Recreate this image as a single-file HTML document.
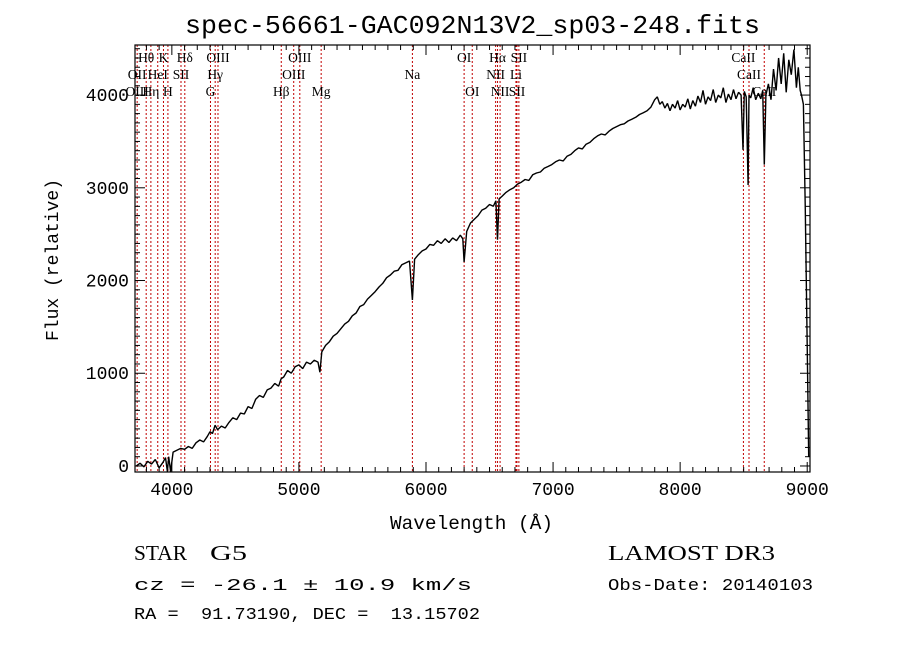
<!DOCTYPE html>
<html><head><meta charset="utf-8"><style>
body{margin:0;background:#fff;}
svg text{font-family:"Liberation Mono",monospace;white-space:pre;}
</style></head><body>
<svg id="c" width="900" height="649" viewBox="0 0 900 649" xmlns="http://www.w3.org/2000/svg">
<rect width="900" height="649" fill="#fff"/>
<text x="185" y="33" font-size="26" textLength="575" lengthAdjust="spacingAndGlyphs">spec-56661-GAC092N13V2_sp03-248.fits</text>
<g id="lines"></g>
<g id="labels"></g>
<polyline id="spec" fill="none" stroke="#000" stroke-width="1.4" stroke-linejoin="bevel"/>
<rect x="135" y="45" width="675" height="427" fill="none" stroke="#000" stroke-width="1.2"/>
<g id="ticks"></g>
<text x="390" y="529" font-size="19" textLength="163" lengthAdjust="spacingAndGlyphs">Wavelength (Å)</text>
<text transform="translate(58,260) rotate(-90)" font-size="18" text-anchor="middle">Flux (relative)</text>
<text x="134" y="560" font-size="21" style="font-family:'Liberation Serif',serif" textLength="53" lengthAdjust="spacingAndGlyphs">STAR</text>
<text x="210" y="560" font-size="21" style="font-family:'Liberation Serif',serif" textLength="37" lengthAdjust="spacingAndGlyphs">G5</text>
<text x="134" y="590" font-size="17" textLength="338" lengthAdjust="spacingAndGlyphs">cz = -26.1 ± 10.9 km/s</text>
<text x="134" y="619" font-size="17" textLength="346" lengthAdjust="spacingAndGlyphs">RA =  91.73190, DEC =  13.15702</text>
<text x="608" y="560" font-size="21" style="font-family:'Liberation Serif',serif" textLength="167" lengthAdjust="spacingAndGlyphs">LAMOST DR3</text>
<text x="608" y="590" font-size="17" textLength="205" lengthAdjust="spacingAndGlyphs">Obs-Date: 20140103</text>
</svg>
<script>
const wave=[
3720,3750,3780,3810,3840,3870,3900,3930,3950,3965,
3975,3990,4010,4040,4070,4100,4130,4160,4190,4220,
4250,4280,4300,4320,4340,4360,4390,4420,4450,4480,
4510,4540,4570,4600,4630,4660,4690,4720,4750,4780,
4810,4840,4860,4880,4910,4940,4970,5000,5030,5060,
5090,5120,5150,5165,5180,5210,5240,5270,5300,5330,
5360,5390,5420,5450,5480,5510,5540,5570,5600,5630,
5660,5690,5720,5750,5780,5810,5840,5870,5893,5910,
5940,5970,6000,6030,6060,6090,6120,6150,6180,6210,
6240,6270,6290,6300,6320,6350,6380,6410,6440,6470,
6500,6530,6550,6563,6575,6600,6630,6660,6690,6720,
6750,6780,6810,6840,6870,6900,6930,6960,6990,7020,
7050,7080,7110,7140,7170,7200,7230,7260,7290,7320,
7350,7380,7410,7440,7470,7500,7530,7560,7590,7620,
7650,7680,7710,7740,7770,7800,7820,7840,7860,7880,
7900,7920,7940,7960,7980,8000,8020,8040,8060,8080,
8100,8120,8140,8160,8180,8200,8220,8240,8260,8280,
8300,8320,8340,8360,8380,8400,8420,8440,8460,8480,
8495,8505,8520,8535,8542,8555,8575,8595,8615,8635,
8650,8662,8675,8695,8715,8735,8755,8775,8795,8815,
8835,8855,8875,8895,8915,8930,8945,8955,8970,8985,
9000,9012];
const flux=[
0,30,-10,50,20,70,-20,40,90,-60,
100,-60,150,170,190,180,210,190,250,280,
260,320,370,350,440,390,430,410,470,520,
500,570,560,640,620,720,760,740,820,840,
890,860,940,960,1030,1000,1070,1090,1050,1120,
1100,1140,1120,1010,1230,1300,1340,1400,1430,1480,
1530,1560,1620,1650,1720,1740,1800,1840,1880,1930,
1970,2030,2060,2100,2110,2170,2190,2210,1790,2230,
2280,2320,2340,2390,2380,2430,2400,2450,2410,2460,
2430,2490,2450,2200,2530,2620,2660,2700,2760,2780,
2820,2800,2860,2440,2880,2910,2950,2980,3000,3040,
3060,3090,3080,3140,3160,3170,3210,3230,3250,3280,
3300,3290,3340,3360,3400,3430,3420,3470,3490,3530,
3560,3580,3570,3610,3640,3660,3680,3690,3720,3740,
3760,3790,3810,3830,3870,3950,3980,3900,3930,3860,
3910,3830,3900,3860,3940,3840,3900,3870,3960,3850,
3940,3880,3990,3920,4050,3900,3980,3940,4060,3920,
4000,3970,4080,3920,4010,3950,4060,3960,4030,4000,
3410,4040,3980,3030,4000,3970,4080,3950,4020,3960,
4050,3250,4000,4120,3950,4280,4050,4400,4120,4450,
4030,4380,4220,4490,4080,4300,4050,4000,3900,2760,
1300,100];
const lineWave=[3727,3798,3835,3889,3934,3969,4072,4102,4304,4341,4363,4861,4959,5007,5175,5893,6300,6364,6548,6563,6583,6708,6716,6731,8498,8542,8662];
const labelText=["Hθ","K","Hδ","OIII","OIII","OI","Hα","SII","CaII","OII","HeI","SII","Hγ","OIII","Na","NII","Li","CaII","OIII","Hη","H","G","Hβ","Mg","OI","NII","SII","CaII"];
const labelWave=[3798,3934,4102,4363,5007,6300,6563,6731,8498,3727,3889,4072,4341,4959,5893,6548,6708,8542,3727,3835,3969,4304,4861,5175,6364,6583,6716,8662];
const labelRow=[0,0,0,0,0,0,0,0,0,1,1,1,1,1,1,1,1,1,2,2,2,2,2,2,2,2,2,2];
const NS="http://www.w3.org/2000/svg";
const X0=135,X1=810,Y0=472,Y1=45,WMIN=3710,WMAX=9022,FMIN=-65,FMAX=4540;
const sx=w=>X0+(w-WMIN)/(WMAX-WMIN)*(X1-X0);
const sy=f=>Y0-(f-FMIN)/(FMAX-FMIN)*(Y0-Y1);
const mk=(t,a,p)=>{const e=document.createElementNS(NS,t);for(const k in a)e.setAttribute(k,a[k]);p.appendChild(e);return e;};
const n=Math.min(wave.length,flux.length);
document.getElementById('spec').setAttribute('points',wave.slice(0,n).map((w,i)=>sx(w).toFixed(1)+','+sy(Math.max(FMIN,flux[i])).toFixed(1)).join(' '));
const gl=document.getElementById('lines');
lineWave.forEach(w=>{const l=mk('line',{x1:sx(w),x2:sx(w),y1:Y1,y2:Y0,stroke:'#c00000','stroke-width':1,'stroke-dasharray':'2,2'},gl);

});
const glb=document.getElementById('labels');
labelText.forEach((t,i)=>{const e=mk('text',{x:sx(labelWave[i]),y:62+labelRow[i]*17,'font-size':13.5,'text-anchor':'middle',style:"font-family:'Liberation Serif',serif"},glb);e.textContent=t;

});
const gt=document.getElementById('ticks');
for(let w=3800;w<=9000;w+=100){const x=sx(w),M=w%1000==0,L=M?10:5;
mk('line',{x1:x,x2:x,y1:Y0,y2:Y0-L,stroke:'#000'},gt);mk('line',{x1:x,x2:x,y1:Y1,y2:Y1+L,stroke:'#000'},gt);
if(M){const t=mk('text',{x:x,y:Y0+23,'font-size':18,'text-anchor':'middle'},gt);t.textContent=w;

}}
for(let f=0;f<=4500;f+=100){const y=sy(f),M=f%1000==0,L=M?10:5;
mk('line',{x1:X0,x2:X0+L,y1:y,y2:y,stroke:'#000'},gt);mk('line',{x1:X1,x2:X1-L,y1:y,y2:y,stroke:'#000'},gt);
if(M){const t=mk('text',{x:X0-6,y:y+6,'font-size':18,'text-anchor':'end'},gt);t.textContent=f;

}}
</script>
</body></html>
